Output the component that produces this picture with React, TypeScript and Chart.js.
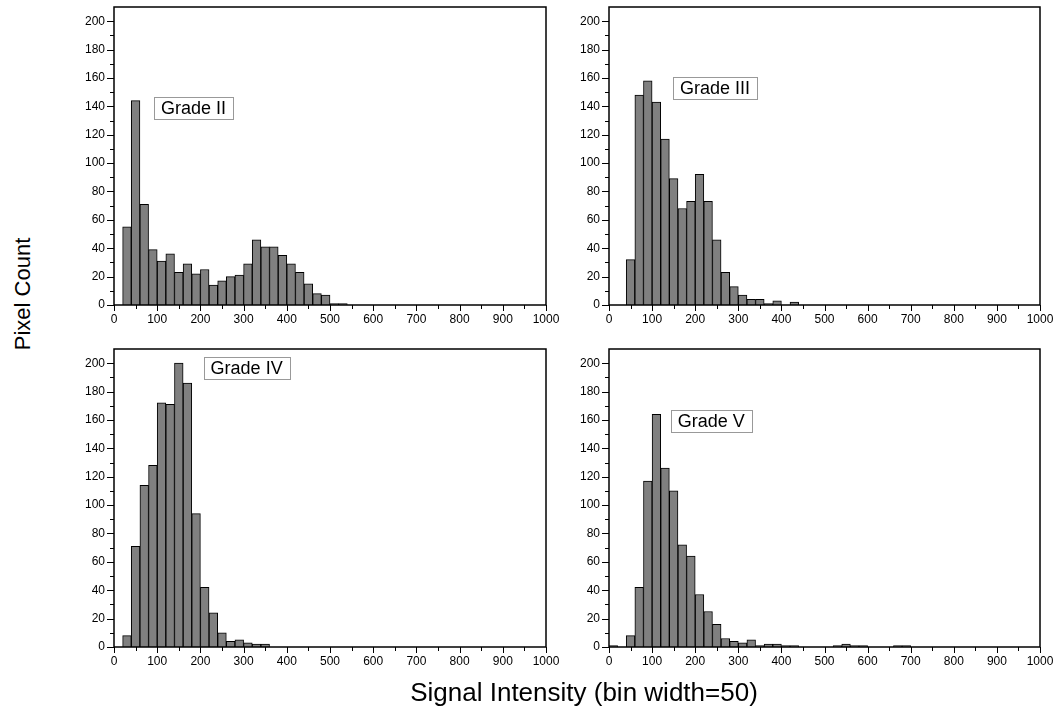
import React, { useEffect, useRef } from 'react';
import { Chart, registerables } from 'chart.js';

Chart.register(...registerables);

// ---- Data (bin start values, bin width = 20 on the signal axis) ----
const GRADE_II_BINS = [20, 40, 60, 80, 100, 120, 140, 160, 180, 200, 220, 240, 260, 280, 300, 320, 340, 360, 380, 400, 420, 440, 460, 480, 500, 520];
const GRADE_II_COUNTS = [55, 144, 71, 39, 31, 36, 23, 29, 22, 25, 14, 17, 20, 21, 29, 46, 41, 41, 35, 29, 23, 15, 8, 7, 1, 1];

const GRADE_III_BINS = [40, 60, 80, 100, 120, 140, 160, 180, 200, 220, 240, 260, 280, 300, 320, 340, 360, 380, 420];
const GRADE_III_COUNTS = [32, 148, 158, 143, 117, 89, 68, 73, 92, 73, 46, 23, 13, 7, 4, 4, 1, 3, 2];

const GRADE_IV_BINS = [20, 40, 60, 80, 100, 120, 140, 160, 180, 200, 220, 240, 260, 280, 300, 320, 340];
const GRADE_IV_COUNTS = [8, 71, 114, 128, 172, 171, 200, 186, 94, 42, 24, 10, 4, 5, 3, 2, 2];

const GRADE_V_BINS = [0, 40, 60, 80, 100, 120, 140, 160, 180, 200, 220, 240, 260, 280, 300, 320, 340, 360, 380, 400, 420, 520, 540, 560, 580, 660, 680];
const GRADE_V_COUNTS = [1, 8, 42, 117, 164, 126, 110, 72, 64, 37, 25, 16, 6, 4, 3, 5, 1, 2, 2, 1, 1, 1, 2, 1, 1, 1, 1];

const BIN_WIDTH = 20;

const X_MIN = 0;
const X_MAX = 1000;
const X_MAJOR = 100;
const X_MINOR = 50;
const Y_MIN = 0;
const Y_MAX = 210;
const Y_TOP_TICK = 200;
const Y_MAJOR = 20;
const Y_MINOR = 10;

const LABELS = ['Grade II', 'Grade III', 'Grade IV', 'Grade V'];
// label box centres in data units [x, y]
const LABEL_POS: [number, number][] = [[184, 138.7], [246, 152.6], [307, 196.6], [237, 159.5]];

const Y_TITLE = 'Pixel Count';
const X_TITLE = 'Signal Intensity (bin width=50)';

const FONT = '"Liberation Sans", Arial, Helvetica, sans-serif';

// layout (page pixels) of each plot area
const AREAS = [
  { left: 114, top: 7, right: 546, bottom: 305 },
  { left: 609, top: 7, right: 1040, bottom: 305 },
  { left: 114, top: 349, right: 546, bottom: 647 },
  { left: 609, top: 349, right: 1040, bottom: 647 },
];
const M_LEFT = 74;
const M_RIGHT = 22;
const M_TOP = 6;
const M_BOTTOM = 35;

function makePlugin(label: string, pos: [number, number]) {
  return {
    id: 'frameTicks',
    afterDatasetsDraw(chart: any) {
      const { ctx, chartArea: a, scales } = chart;
      const xs = scales.x;
      const ys = scales.y;
      ctx.save();
      ctx.strokeStyle = '#000';
      ctx.lineWidth = 1;
      ctx.beginPath();
      for (let v = X_MIN; v <= X_MAX; v += X_MINOR) {
        const px = Math.round(xs.getPixelForValue(v)) + 0.5;
        const len = v % X_MAJOR === 0 ? 6 : 4;
        ctx.moveTo(px, a.bottom);
        ctx.lineTo(px, a.bottom + len);
      }
      for (let v = Y_MIN; v <= Y_TOP_TICK; v += Y_MINOR) {
        const py = Math.round(ys.getPixelForValue(v)) + 0.5;
        const len = v % Y_MAJOR === 0 ? 7 : 4;
        ctx.moveTo(a.left, py);
        ctx.lineTo(a.left - len, py);
      }
      ctx.stroke();
      ctx.lineWidth = 1.5;
      ctx.strokeRect(a.left, a.top, a.right - a.left, a.bottom - a.top);

      // label box
      ctx.font = '18px ' + FONT;
      const tw = ctx.measureText(label).width;
      const cx = xs.getPixelForValue(pos[0]);
      const cy = ys.getPixelForValue(pos[1]);
      const w = tw + 14;
      const h = 22;
      ctx.fillStyle = '#ffffff';
      ctx.fillRect(cx - w / 2, cy - h / 2, w, h);
      ctx.strokeStyle = '#999999';
      ctx.lineWidth = 1;
      ctx.strokeRect(Math.round(cx - w / 2) + 0.5, Math.round(cy - h / 2) + 0.5, Math.round(w), h);
      ctx.fillStyle = '#000';
      ctx.textAlign = 'center';
      ctx.textBaseline = 'middle';
      ctx.fillText(label, cx, cy + 1);
      ctx.restore();
    },
  };
}

function Panel({ bins, counts, idx }: { bins: number[]; counts: number[]; idx: number }) {
  const ref = useRef<HTMLCanvasElement | null>(null);
  const area = AREAS[idx];
  const width = area.right - area.left + M_LEFT + M_RIGHT;
  const height = area.bottom - area.top + M_TOP + M_BOTTOM;
  useEffect(() => {
    if (!ref.current) return;
    const points = bins.map((b, i) => ({ x: b + BIN_WIDTH / 2, y: counts[i] }));
    const chart = new Chart(ref.current, {
      type: 'bar',
      data: {
        datasets: [
          {
            data: points as any,
            backgroundColor: '#808080',
            borderColor: '#000000',
            borderWidth: 1,
            barPercentage: 1,
            categoryPercentage: 1,
            borderSkipped: 'start',
          },
        ],
      },
      options: {
        animation: false,
        responsive: false,
        maintainAspectRatio: false,
        layout: { padding: { left: 0, top: M_TOP, right: M_RIGHT, bottom: 0 } },
        plugins: { legend: { display: false }, tooltip: { enabled: false } },
        scales: {
          x: {
            type: 'linear',
            min: X_MIN,
            max: X_MAX,
            offset: false,
            grid: { display: false, drawTicks: false },
            border: { display: false },
            ticks: {
              stepSize: X_MAJOR,
              padding: 7,
              color: '#000',
              maxRotation: 0,
              autoSkip: false,
              font: { family: FONT, size: 12 },
              callback: (v: any) => String(v),
            },
            afterFit: (s: any) => {
              s.height = M_BOTTOM;
              s.paddingLeft = 0;
              s.paddingRight = 0;
            },
          },
          y: {
            type: 'linear',
            min: Y_MIN,
            max: Y_MAX,
            grid: { display: false, drawTicks: false },
            border: { display: false },
            ticks: {
              stepSize: Y_MAJOR,
              padding: 9,
              color: '#000',
              font: { family: FONT, size: 12 },
              callback: (v: any) => String(v),
            },
            afterBuildTicks: (s: any) => {
              s.ticks = s.ticks.filter((t: any) => t.value <= Y_TOP_TICK);
            },
            afterFit: (s: any) => {
              s.width = M_LEFT;
              s.paddingTop = 0;
              s.paddingBottom = 0;
            },
          },
        },
      },
      plugins: [makePlugin(LABELS[idx], LABEL_POS[idx])],
    } as any);
    return () => chart.destroy();
  }, []);
  return (
    <canvas
      ref={ref}
      width={width}
      height={height}
      style={{
        position: 'absolute',
        left: area.left - M_LEFT,
        top: area.top - M_TOP,
        width,
        height,
      }}
    />
  );
}

export default function App() {
  return (
    <div
      style={{
        position: 'absolute',
        left: 0,
        top: 0,
        width: 1062,
        height: 716,
        background: '#ffffff',
        overflow: 'hidden',
        fontFamily: FONT,
      }}
    >
      <Panel bins={GRADE_II_BINS} counts={GRADE_II_COUNTS} idx={0} />
      <Panel bins={GRADE_III_BINS} counts={GRADE_III_COUNTS} idx={1} />
      <Panel bins={GRADE_IV_BINS} counts={GRADE_IV_COUNTS} idx={2} />
      <Panel bins={GRADE_V_BINS} counts={GRADE_V_COUNTS} idx={3} />
      <div
        style={{
          position: 'absolute',
          left: 23,
          top: 294,
          transform: 'translate(-50%, -50%) rotate(-90deg)',
          whiteSpace: 'nowrap',
          fontSize: 22,
          color: '#000',
        }}
      >
        {Y_TITLE}
      </div>
      <div
        style={{
          position: 'absolute',
          left: 584,
          top: 692,
          transform: 'translate(-50%, -50%)',
          whiteSpace: 'nowrap',
          fontSize: 26,
          color: '#000',
        }}
      >
        {X_TITLE}
      </div>
    </div>
  );
}
